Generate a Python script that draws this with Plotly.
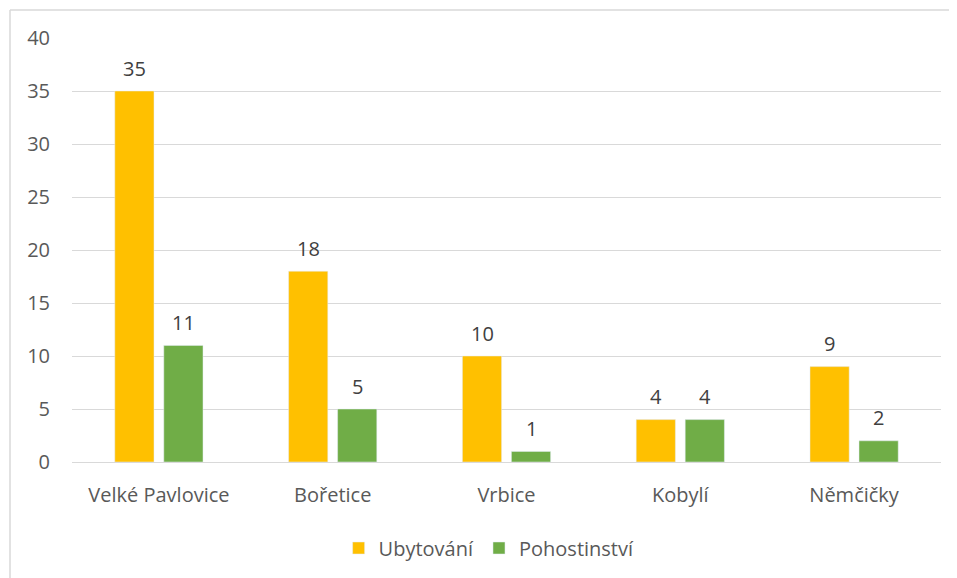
import plotly.graph_objects as go

categories = ["Velké Pavlovice", "Bořetice", "Vrbice", "Kobylí", "Němčičky"]
ubytovani = [35, 18, 10, 4, 9]
pohostinstvi = [11, 5, 1, 4, 2]
y_ticks = [0, 5, 10, 15, 20, 25, 30, 35, 40]

FONT = "Open Sans"
TXT = "#595959"
LBL = "#404040"
FS = 20

fig = go.Figure()
fig.add_trace(go.Bar(x=categories, y=ubytovani, name="Ubytování",
                     marker=dict(color="#FFC000")))
fig.add_trace(go.Bar(x=categories, y=pohostinstvi, name="Pohostinství",
                     marker=dict(color="#70AD47")))

annotations = []
for series, shift in ((ubytovani, -24.5), (pohostinstvi, 24.5)):
    for c, v in zip(categories, series):
        annotations.append(dict(x=c, y=v, xref="x", yref="y", text=str(v),
                                showarrow=False, xshift=shift, yshift=23,
                                yanchor="middle",
                                font=dict(family=FONT, size=FS, color=LBL)))

fig.update_layout(
    width=949, height=570,
    margin=dict(l=64, r=16, t=30, b=115),
    paper_bgcolor="white", plot_bgcolor="white",
    font=dict(family=FONT, size=FS, color=TXT),
    barmode="group", bargap=0.436, bargroupgap=0.2,
    showlegend=True,
    legend=dict(orientation="h", x=0.48, xanchor="center", y=-0.2, yanchor="middle",
                font=dict(family=FONT, size=FS, color=TXT),
                traceorder="normal"),
    xaxis=dict(showgrid=False, showline=False, ticks="outside", ticklen=15,
               tickcolor="rgba(0,0,0,0)", tickfont=dict(size=FS, color=TXT)),
    yaxis=dict(range=[0, 40], tickvals=y_ticks, showgrid=True, gridcolor="#D9D9D9", gridwidth=1,
               zeroline=True, zerolinecolor="#D9D9D9", zerolinewidth=1, showline=False,
               ticks="outside", ticklen=17, tickcolor="rgba(0,0,0,0)",
               tickfont=dict(size=FS, color=TXT)),
    annotations=annotations,
    shapes=[
        dict(type="line", xref="paper", yref="paper",
             x0=-62/869, x1=1.1, y0=1 + 28/425, y1=1 + 28/425,
             line=dict(color="#D9D9D9", width=1.5)),
        dict(type="line", xref="paper", yref="paper",
             x0=-62/869, x1=-62/869, y0=1 + 28/425, y1=-0.3,
             line=dict(color="#D9D9D9", width=1.5)),
    ],
)

fig.write_html("out.html")
